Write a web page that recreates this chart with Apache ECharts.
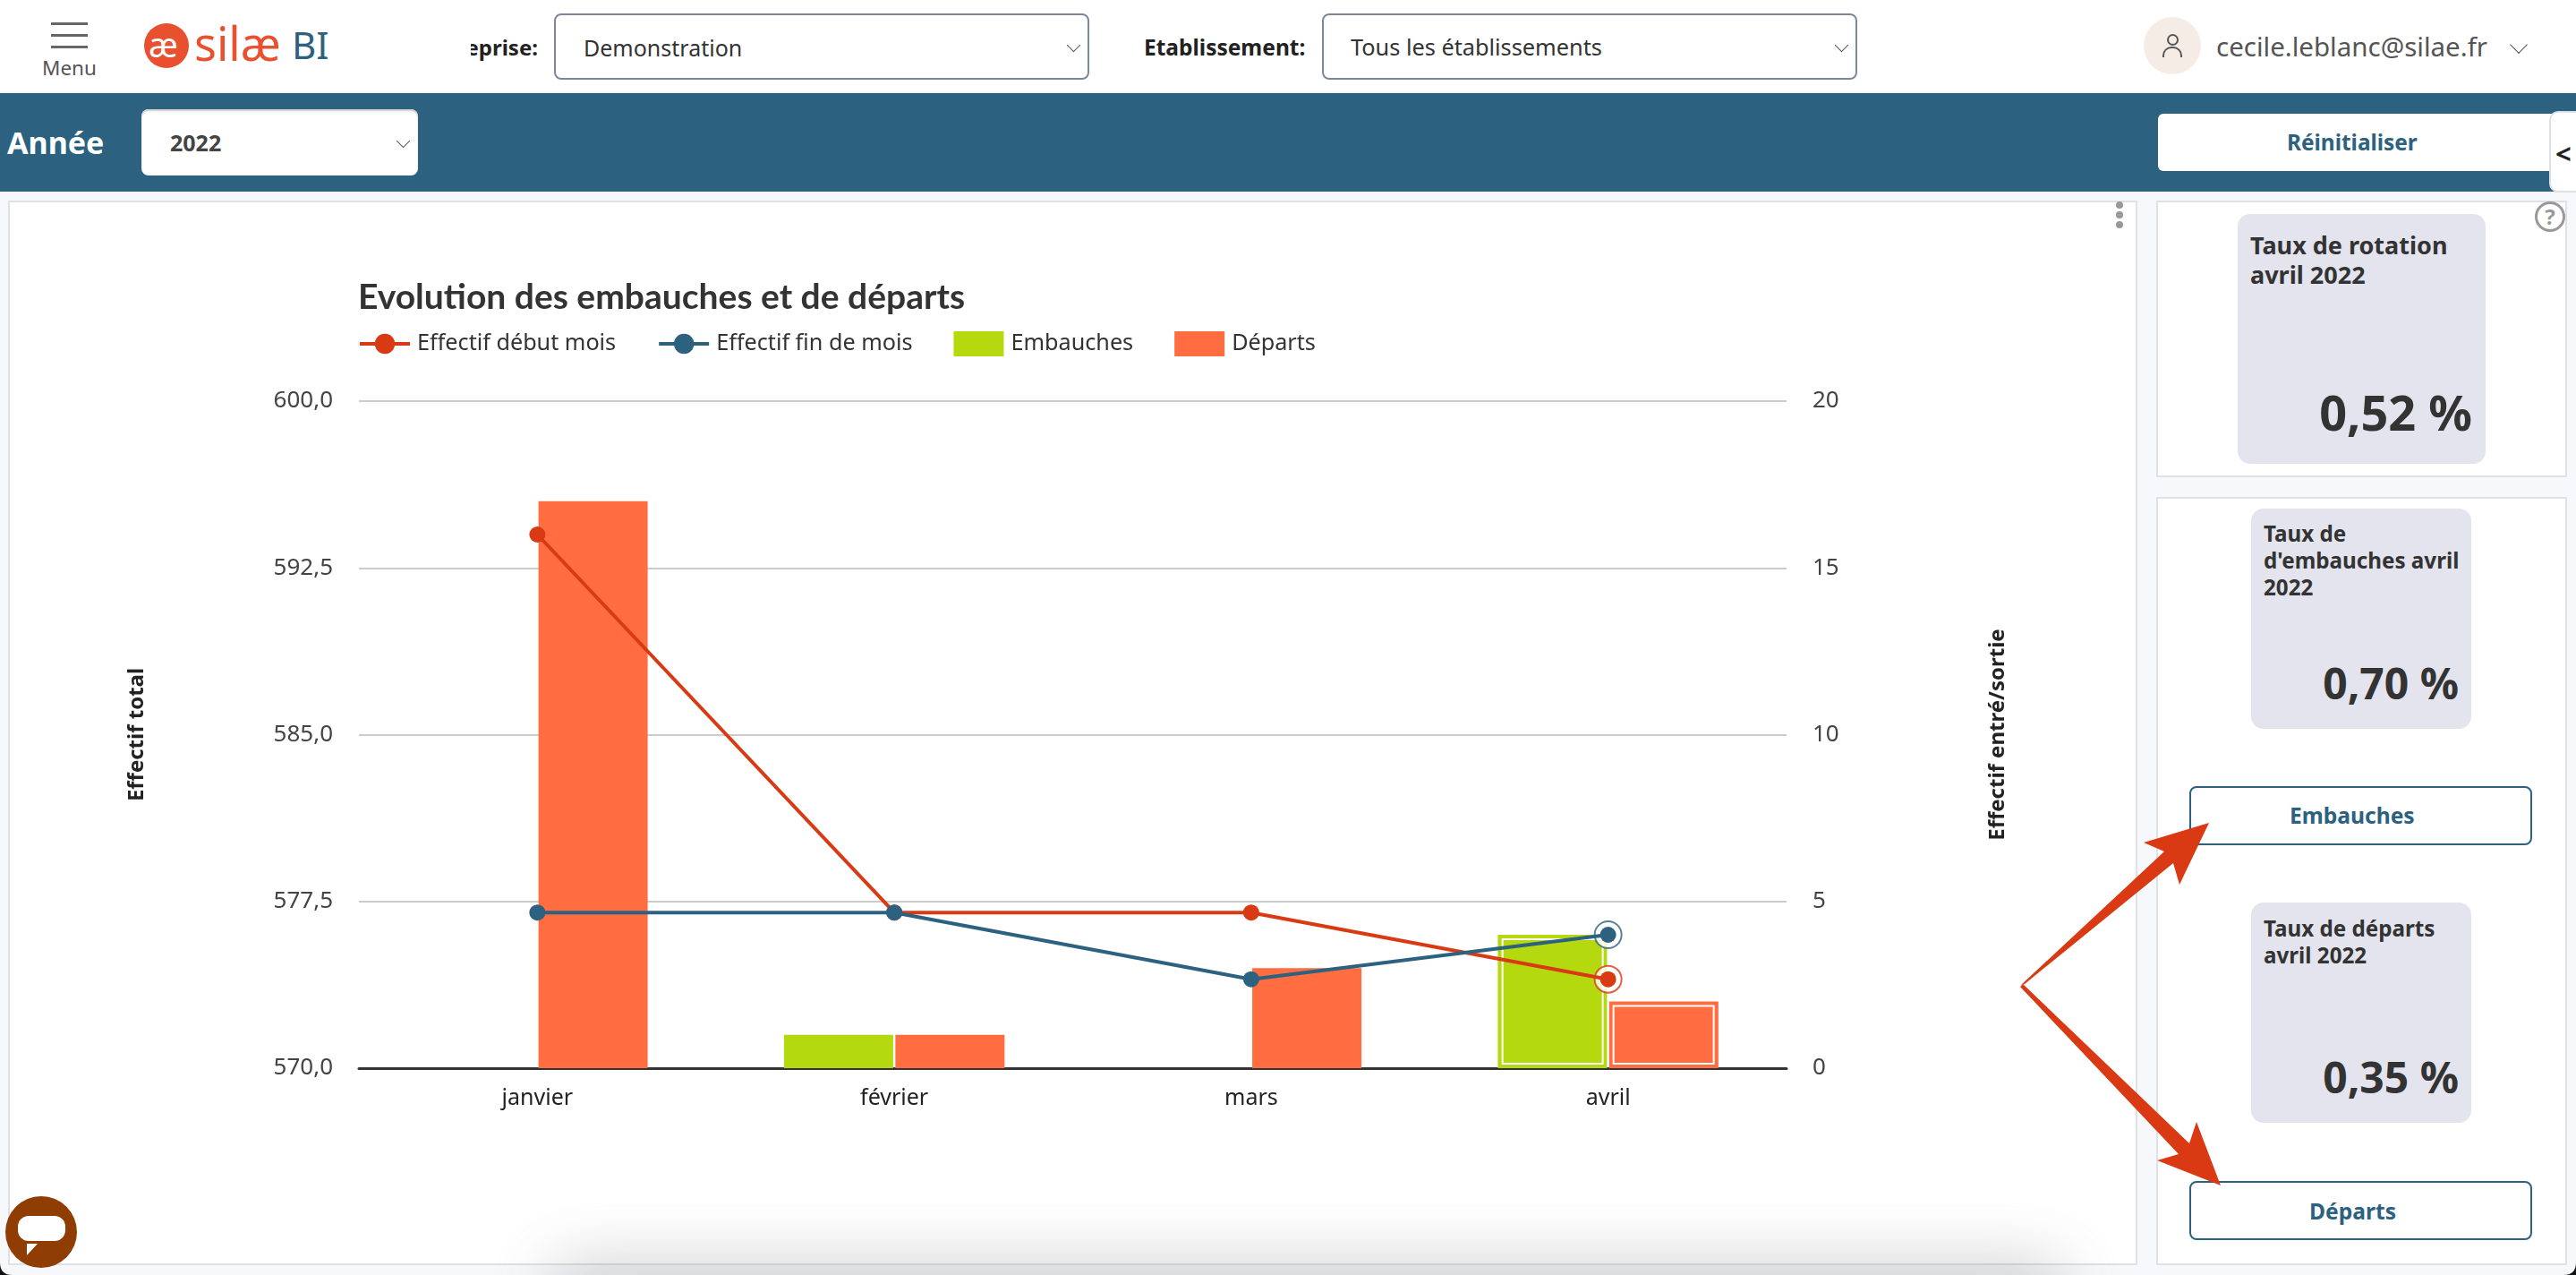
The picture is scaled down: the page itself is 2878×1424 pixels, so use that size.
<!DOCTYPE html>
<html lang="fr">
<head>
<meta charset="utf-8">
<title>Evolution des embauches et de départs</title>
<script src="https://cdn.jsdelivr.net/npm/echarts@6/dist/echarts.min.js"></script>
<style>
html,body{margin:0;padding:0;width:2878px;height:1424px;overflow:hidden;background:#f7f8fb;font-family:"Noto Sans",sans-serif;color:#333;}
.abs,.t{position:absolute;}
.t{white-space:nowrap;line-height:1;transform:translateY(-50%);}
.panel{position:absolute;background:#fff;border:2px solid #dfe1e5;box-sizing:border-box;}
.select{position:absolute;background:#fff;box-sizing:border-box;border:2px solid #7d879c;border-radius:8px;}
.chev{position:absolute;width:10px;height:10px;border-right:1.5px solid #555;border-bottom:1.5px solid #555;transform:rotate(45deg);}
.card{position:absolute;background:#e4e4ee;border-radius:14px;}
.btn{position:absolute;box-sizing:border-box;background:#fff;border:2px solid #2c6280;border-radius:8px;}
.b{font-weight:700;}
#chart{position:absolute;left:0;top:0;width:2878px;height:1424px;}
</style>
</head>
<body>
<!-- en-tete -->
<div class="abs" style="left:0;top:0;width:2878px;height:102px;background:#fff"></div>
<div class="abs" style="left:0;top:104px;width:2878px;height:110px;background:#2c6280"></div>
<div class="abs" style="left:57px;top:25px;width:41px;height:3px;background:#666"></div>
<div class="abs" style="left:57px;top:38px;width:41px;height:3px;background:#666"></div>
<div class="abs" style="left:57px;top:51px;width:41px;height:3px;background:#666"></div>
<div class="t" style="left:47px;top:76px;font-size:22.5px;color:#555">Menu</div>
<div class="abs" style="left:161px;top:26px;width:50px;height:50px;border-radius:50%;background:#e8502f"></div>
<div class="t" style="left:166px;top:49px;font-size:38px;color:#fff">æ</div>
<div class="t" style="left:217px;top:48px;font-size:52px;color:#e8502f">silæ</div>
<div class="t" style="left:326px;top:50px;font-size:42px;color:#2c6280">BI</div>
<div class="abs" style="left:526px;top:30px;width:75px;height:46px;overflow:hidden"><div class="t b" style="right:0;top:23px;font-size:24px;color:#222">Entreprise:</div></div>
<div class="select" style="left:619px;top:15px;width:598px;height:74px"></div>
<div class="t" style="left:652px;top:53px;font-size:25px">Demonstration</div>
<div class="chev" style="left:1194px;top:45px"></div>
<div class="t b" style="left:1278px;top:53px;font-size:24.5px;color:#222">Etablissement:</div>
<div class="select" style="left:1477px;top:15px;width:598px;height:74px"></div>
<div class="t" style="left:1509px;top:53px;font-size:25.3px">Tous les établissements</div>
<div class="chev" style="left:2052px;top:45px"></div>
<div class="abs" style="left:2395px;top:19px;width:64px;height:64px;border-radius:50%;background:#f5ece6"></div>
<div class="abs" style="left:2421px;top:38px;width:9px;height:9px;border:2px solid #555;border-radius:50%"></div>
<div class="abs" style="left:2416px;top:52px;width:18px;height:10px;border:2px solid #555;border-bottom:0;border-radius:10px 10px 0 0"></div>
<div class="t" style="left:2476px;top:52px;font-size:29.5px;color:#555">cecile.leblanc@silae.fr</div>
<div class="chev" style="left:2807px;top:43px;width:13px;height:13px"></div>

<!-- bandeau annee -->
<div class="t b" style="left:8px;top:159px;font-size:34px;color:#fff">Année</div>
<div class="select" style="left:158px;top:122px;width:309px;height:74px;border:0;box-shadow:inset 0 2px 2px #ccc"></div>
<div class="t b" style="left:190px;top:159px;font-size:25px;color:#444">2022</div>
<div class="chev" style="left:445px;top:152px;background:none"></div>
<div class="abs" style="left:2411px;top:127px;width:445px;height:64px;background:#fff;border-radius:6px"></div>
<div class="t b" style="left:2555px;top:159px;font-size:24.4px;color:#2c6280">Réinitialiser</div>
<div class="abs" style="left:2848px;top:124px;width:40px;height:91px;background:#fff;border:2px solid #dfe1e5;border-radius:10px;box-sizing:border-box"></div>
<div class="t b" style="left:2855px;top:171px;font-size:31px;color:#222">&lt;</div>

<!-- panneaux -->
<div class="panel" style="left:9px;top:224px;width:2379px;height:1189px"></div>
<div class="abs" style="left:2364px;top:225px;width:8px;height:8px;border-radius:50%;background:#999;box-shadow:0 11px 0 #999,0 22px 0 #999"></div>
<div class="panel" style="left:2409px;top:224px;width:459px;height:309px"></div>
<div class="abs" style="left:2832px;top:225px;width:28px;height:28px;border:3px solid #999;border-radius:50%;text-align:center;color:#999;font-size:24px;font-weight:700;line-height:28px">?</div>
<div class="card" style="left:2500px;top:239px;width:277px;height:279px"></div>
<div class="t b" style="left:2514px;top:273px;font-size:27px">Taux de rotation</div>
<div class="t b" style="left:2514px;top:306px;font-size:27px">avril 2022</div>
<div class="t b" style="right:116px;top:460px;font-size:54px">0,52 %</div>

<div class="panel" style="left:2409px;top:555px;width:459px;height:858px"></div>
<div class="card" style="left:2515px;top:568px;width:246px;height:246px"></div>
<div class="t b" style="left:2529px;top:596px;font-size:24.2px">Taux de</div>
<div class="t b" style="left:2529px;top:626px;font-size:24.2px">d'embauches avril</div>
<div class="t b" style="left:2529px;top:656px;font-size:24.2px">2022</div>
<div class="t b" style="right:131px;top:763px;font-size:48px">0,70 %</div>
<div class="btn" style="left:2446px;top:878px;width:383px;height:66px"></div>
<div class="t b" style="left:2558px;top:911px;font-size:24.6px;color:#2c6280">Embauches</div>
<div class="card" style="left:2515px;top:1008px;width:246px;height:246px"></div>
<div class="t b" style="left:2529px;top:1037px;font-size:24.2px">Taux de départs</div>
<div class="t b" style="left:2529px;top:1067px;font-size:24.2px">avril 2022</div>
<div class="t b" style="right:131px;top:1203px;font-size:48px">0,35 %</div>
<div class="btn" style="left:2446px;top:1319px;width:383px;height:66px"></div>
<div class="t b" style="left:2580px;top:1353px;font-size:24.6px;color:#2c6280">Départs</div>

<div id="chart"></div>

<!-- ombre du bas, bulle de chat, fleches -->
<div class="abs" style="left:620px;top:1416px;width:1680px;height:46px;background:#777;filter:blur(36px);opacity:.45"></div>
<div class="abs" style="left:6px;top:1336px;width:80px;height:80px;border-radius:50%;background:#8f3d02"></div>
<div class="abs" style="left:20px;top:1358px;width:53px;height:28px;border-radius:12px;background:#fff"></div>
<svg class="abs" style="left:0;top:0" width="2878" height="1424">
  <path fill="#111" d="M0 1410 Q0 1424 14 1424 L0 1424 Z"/>
  <path fill="#111" d="M2878 1410 Q2878 1424 2864 1424 L2878 1424 Z"/>
  <polygon fill="#fff" points="30,1389 42,1389 30,1402"/>
  <polygon fill="#d93a14" points="2258,1100 2418,951 2395,941 2468,919 2435,988 2428,964 2262,1099"/>
  <polygon fill="#d93a14" points="2257,1102 2434,1289 2410,1296 2481,1324 2454,1253 2446,1277 2260,1099"/>
</svg>

<script>
var categories = ['janvier', 'février', 'mars', 'avril'];
var effectifDebut = [594, 577, 577, 574];
var effectifFin = [577, 577, 574, 576];
var embauches = [0, 1, 0, 4];
var departs = [17, 1, 3, 2];
var legendNames = ['Effectif début mois', 'Effectif fin de mois', 'Embauches', 'Départs'];
var selectedMonth = 3; // avril est le mois selectionne

var barWidth = 122;
var fontName = '"Noto Sans", sans-serif';

// contour blanc interieur des barres du mois selectionne
function renderSelected(params, api) {
	var side = api.value(2);
	var top = api.coord([api.value(0), api.value(1)]);
	var base = api.coord([api.value(0), 0]);
	var left = side < 0 ? top[0] - barWidth - 1 : top[0] + 1;
	return {
		type : 'rect',
		shape : { x : left + 5, y : top[1] + 5, width : barWidth - 10, height : base[1] - top[1] - 10 },
		style : { fill : 'none', stroke : '#fff', lineWidth : 2 }
	};
}

var chart = echarts.init(document.getElementById('chart'), null, { renderer : 'canvas' });
chart.setOption({
	animation : false,
	backgroundColor : 'transparent',
	textStyle : { fontFamily : fontName },
	title : {
		text : 'Evolution des embauches et de départs',
		left : 400,
		top : 313,
		padding : 0,
		textStyle : { fontFamily : 'Lato, sans-serif', fontSize : 39, fontWeight : 700, color : '#333' }
	},
	legend : {
		left : 400,
		top : 370,
		padding : 0,
		itemWidth : 56,
		itemHeight : 28,
		itemGap : 46,
		lineStyle : { width : 4 },
		data : [
			{ name : legendNames[0] },
			{ name : legendNames[1] },
			{ name : legendNames[2], icon : 'rect' },
			{ name : legendNames[3], icon : 'rect' }
		],
		textStyle : { fontFamily : fontName, fontSize : 25.2, color : '#333', padding : [0, 0, 0, 3] }
	},
	grid : { left : 401, right : 882, top : 448, bottom : 231 },
	xAxis : [ {
		type : 'category',
		data : categories,
		axisTick : { show : false },
		axisLine : { lineStyle : { color : '#333', width : 3 } },
		axisLabel : { margin : 21, fontSize : 25, color : '#222', fontFamily : fontName }
	} ],
	yAxis : [ {
		type : 'value',
		min : 570,
		max : 600,
		interval : 7.5,
		name : 'Effectif total',
		nameLocation : 'middle',
		nameRotate : 90,
		nameGap : 236,
		nameTextStyle : { fontSize : 24, fontWeight : 700, color : '#222', fontFamily : fontName },
		axisLabel : {
			margin : 29,
			fontSize : 26,
			color : '#444',
			fontFamily : fontName,
			formatter : function(v) { return v.toFixed(1).replace('.', ','); }
		},
		axisLine : { show : false },
		axisTick : { show : false },
		splitLine : { lineStyle : { color : '#ccc', width : 2 } }
	}, {
		type : 'value',
		min : 0,
		max : 20,
		interval : 5,
		name : 'Effectif entré/sortie',
		nameLocation : 'middle',
		nameRotate : 90,
		nameGap : 224,
		nameTextStyle : { fontSize : 24, fontWeight : 700, color : '#222', fontFamily : fontName },
		axisLabel : { margin : 29, fontSize : 26, color : '#444', fontFamily : fontName },
		axisLine : { show : false },
		axisTick : { show : false },
		splitLine : { show : false }
	} ],
	series : [ {
		name : legendNames[2],
		type : 'bar',
		yAxisIndex : 1,
		barWidth : barWidth,
		barGap : '2%',
		z : 2,
		itemStyle : { color : '#b5d90f' },
		data : embauches
	}, {
		name : legendNames[3],
		type : 'bar',
		yAxisIndex : 1,
		barWidth : barWidth,
		z : 2,
		itemStyle : { color : '#ff6d40' },
		data : departs
	}, {
		// contours du mois selectionne
		type : 'custom',
		yAxisIndex : 1,
		z : 3,
		silent : true,
		renderItem : renderSelected,
		data : [ [selectedMonth, embauches[selectedMonth], -1], [selectedMonth, departs[selectedMonth], 1] ]
	}, {
		// anneaux des points du mois selectionne
		type : 'scatter',
		symbolSize : 30,
		z : 4,
		silent : true,
		itemStyle : { color : '#fff', borderColor : '#d93a14', borderWidth : 2 },
		data : [ [selectedMonth, effectifDebut[selectedMonth]] ]
	}, {
		type : 'scatter',
		symbolSize : 30,
		z : 4,
		silent : true,
		itemStyle : { color : '#fff', borderColor : '#2c6280', borderWidth : 2 },
		data : [ [selectedMonth, effectifFin[selectedMonth]] ]
	}, {
		name : legendNames[0],
		type : 'line',
		z : 5,
		symbol : 'circle',
		symbolSize : 18,
		lineStyle : { color : '#d93a14', width : 4 },
		itemStyle : { color : '#d93a14' },
		data : effectifDebut
	}, {
		name : legendNames[1],
		type : 'line',
		z : 6,
		symbol : 'circle',
		symbolSize : 18,
		lineStyle : { color : '#2c6280', width : 4 },
		itemStyle : { color : '#2c6280' },
		data : effectifFin
	} ]
});
</script>
</body>
</html>
